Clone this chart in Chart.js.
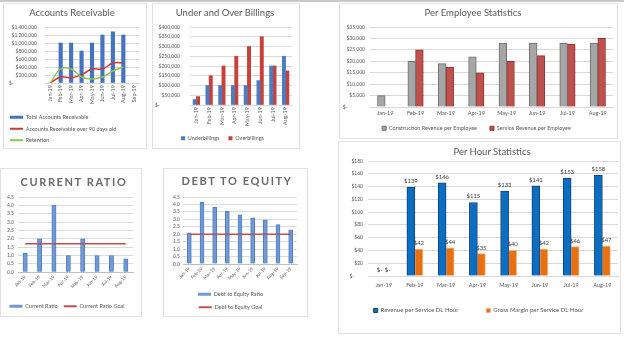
<!DOCTYPE html>
<html>
<head>
<meta charset="utf-8">
<script src="https://cdn.jsdelivr.net/npm/chart.js@4.4.0/dist/chart.umd.min.js"></script>
<style>
  html, body { margin: 0; padding: 0; background: #fff; }
  body { width: 624px; height: 337px; position: relative; overflow: hidden; font-family: Lato, 'Open Sans', sans-serif; }
  .topline { position: absolute; left: 0; top: 0; width: 624px; height: 2px; background: #c8c8c8; }
  .panel { position: absolute; box-sizing: border-box; border: 1px solid #e2e2e2; background: #fff; }
  .panel canvas { position: absolute; left: 0; top: 0; }
  .title { position: absolute; transform: translateX(-50%); white-space: nowrap; color: #595959; font-size: 9.5px; line-height: 12px; z-index: 2; }
  .title.caps { font-weight: 700; font-size: 11px; line-height: 14px; letter-spacing: 1.6px; color: #6a6a6a; }
</style>
</head>
<body>
<div class="topline"></div>

<div class="panel" style="left:3px;top:3px;width:144px;height:146px">
  <div class="title" style="left:68px;top:3px">Accounts Receivable</div>
  <canvas id="arChart" width="142" height="149"></canvas>
</div>

<div class="panel" style="left:152px;top:3px;width:148px;height:146px">
  <div class="title" style="left:72px;top:3px">Under and Over Billings</div>
  <canvas id="billingChart" width="146" height="147"></canvas>
</div>

<div class="panel" style="left:339px;top:3px;width:279px;height:136px">
  <div class="title" style="left:133px;top:3px">Per Employee Statistics</div>
  <canvas id="employeeChart" width="277" height="141"></canvas>
</div>

<div class="panel" style="left:0px;top:168px;width:142px;height:149px">
  <div class="title caps" style="left:73px;top:6px">CURRENT RATIO</div>
  <canvas id="currentChart" width="140" height="150"></canvas>
</div>

<div class="panel" style="left:163px;top:168px;width:145px;height:149px">
  <div class="title caps" style="left:73px;top:5px">DEBT TO EQUITY</div>
  <canvas id="debtChart" width="143" height="151"></canvas>
</div>

<div class="panel" style="left:338px;top:141px;width:283px;height:193px">
  <div class="title" style="left:153px;top:4px">Per Hour Statistics</div>
  <canvas id="hourChart" width="281" height="191"></canvas>
</div>

<script>
// months shown on the category axes
const months8 = ['Jan-19', 'Feb-19', 'Mar-19', 'Apr-19', 'May-19', 'Jun-19', 'Jul-19', 'Aug-19'];
const months9 = ['Jan-19', 'Feb-19', 'Mar-19', 'Apr-19', 'May-19', 'Jun-19', 'Jul-19', 'Aug-19', 'Sep-19'];

// accounts receivable
const arTotal = [0, 1000000, 1000000, 800000, 1000000, 1200000, 1280000, 1200000, null];
const arOver90 = [0, 150000, 130000, 210000, 350000, 350000, 500000, 500000, null];
const arRetention = [0, 350000, 350000, 150000, 100000, 150000, 300000, 400000, null];

// billings
const underBillings = [28000, 100000, 100000, 100000, 100000, 125000, 200000, 250000];
const overBillings = [43000, 150000, 200000, 250000, 300000, 350000, 200000, 175000];

// per employee
const constructionPerEmp = [5000, 20000, 19000, 22000, 28000, 28000, 28000, 28000];
const servicePerEmp = [0, 25000, 17500, 15000, 20000, 22500, 27500, 30000];

// ratios
const currentRatio = [1.15, 2.0, 4.0, 1.0, 2.0, 1.0, 1.0, 0.8];
const currentRatioGoal = [1.7, 1.7, 1.7, 1.7, 1.7, 1.7, 1.7, 1.7];
const debtToEquity = [2.1, 4.15, 3.8, 3.55, 3.3, 3.1, 2.95, 2.65, 2.3];
const debtToEquityGoal = [2.0, 2.0, 2.0, 2.0, 2.0, 2.0, 2.0, 2.0, 2.0];

// per hour
const revenuePerHour = [0, 139, 146, 115, 133, 141, 153, 158];
const marginPerHour = [0, 42, 44, 35, 40, 42, 46, 47];

Chart.defaults.font.family = "Lato, 'Open Sans', sans-serif";
Chart.defaults.color = '#595959';
Chart.defaults.animation = false;
Chart.defaults.responsive = false;
Chart.defaults.plugins.tooltip.enabled = false;

const GRID = '#d9d9d9';

// accounting style: zero shows as "$-" pushed to the left of the label column
function money(padTo) {
  return v => v === 0 ? '$-' + '\u2007'.repeat(padTo) : '$' + v.toLocaleString('en-US');
}

// legend entries: rectangles for bars, short strokes for lines, kept in dataset order
function legendItems(chart) {
  return Chart.defaults.plugins.legend.labels.generateLabels(chart)
    .sort((a, b) => a.datasetIndex - b.datasetIndex)
    .map(item => {
      const ds = chart.data.datasets[item.datasetIndex];
      const isLine = ds.type === 'line';
      item.pointStyle = isLine ? 'line' : 'rect';
      item.fillStyle = ds.backgroundColor;
      item.strokeStyle = ds.borderColor;
      item.lineWidth = isLine ? 2 : (ds.legendBorder || 0);
      return item;
    });
}

// value axis with a fixed width so the plot starts where it should
function yAxis(max, step, fmt, pad, width) {
  return {
    min: 0, max: max,
    ticks: { stepSize: step, callback: fmt, autoSkip: false, font: { size: 5 }, padding: pad, color: '#595959' },
    grid: { color: GRID, drawTicks: false },
    border: { display: false },
    afterFit: s => { s.width = width; }
  };
}

// category axis with a fixed height (labels are clipped to it, so it must hold them)
function xAxis(rotation, height, pad, size, baseColor) {
  return {
    ticks: { autoSkip: false, minRotation: rotation, maxRotation: rotation, font: { size: size }, padding: pad, color: '#595959' },
    grid: { display: false, drawTicks: false },
    border: { display: true, color: baseColor || GRID },
    afterFit: s => { s.height = height; }
  };
}

// moves the legend up or down after layout without touching the plot area
const legendShift = {
  id: 'legendShift',
  afterLayout(chart, args, opts) {
    const dy = opts.dy || 0;
    if (chart.legend && dy) {
      chart.legend.top += dy;
      chart.legend.bottom += dy;
    }
  }
};

// "$139" style labels above each bar
const barValueLabels = {
  id: 'barValueLabels',
  afterDatasetsDraw(chart) {
    const ctx = chart.ctx;
    ctx.save();
    ctx.font = "6px Lato, 'Open Sans', sans-serif";
    ctx.fillStyle = '#404040';
    ctx.textAlign = 'center';
    ctx.textBaseline = 'bottom';
    chart.data.datasets.forEach((ds, i) => {
      chart.getDatasetMeta(i).data.forEach((bar, j) => {
        const v = ds.data[j];
        ctx.fillText(v ? '$' + v : '$-', bar.x, bar.y - 3);
      });
    });
    ctx.restore();
  }
};

new Chart(document.getElementById('arChart'), {
  type: 'bar',
  data: {
    labels: months9,
    datasets: [
      { label: 'Total Accounts Receivable', data: arTotal, backgroundColor: '#4472c4', barThickness: 3.5, order: 2 },
      { type: 'line', label: 'Accounts Receivable over 90 days old', data: arOver90, borderColor: '#d0372f', backgroundColor: '#d0372f',
        borderWidth: 1.5, pointRadius: 0, tension: 0.35, order: 1 },
      { type: 'line', label: 'Retention', data: arRetention, borderColor: '#8fc24f', backgroundColor: '#8fc24f',
        borderWidth: 1.5, pointRadius: 0, tension: 0.35, order: 0 }
    ]
  },
  options: {
    layout: { padding: { top: 23, left: 0, right: 7, bottom: 0 } },
    scales: { x: xAxis(90, 25.5, 2, 5.5), y: yAxis(1400000, 200000, money(8), 8, 41) },
    plugins: {
      legend: {
        position: 'bottom', align: 'start',
        labels: { usePointStyle: true, pointStyleWidth: 13, boxHeight: 3, padding: 6, font: { size: 5.5 }, generateLabels: legendItems }
      }
    }
  }
});

new Chart(document.getElementById('billingChart'), {
  type: 'bar',
  data: {
    labels: months8,
    datasets: [
      { label: 'Underbillings', data: underBillings, backgroundColor: '#4a7cc4', barThickness: 3.3 },
      { label: 'Overbillings', data: overBillings, backgroundColor: '#c9403b', barThickness: 3.3 }
    ]
  },
  options: {
    layout: { padding: { top: 23, left: 0, right: 7, bottom: 0 } },
    scales: { x: xAxis(90, 21.5, 2, 5.5), y: yAxis(400000, 50000, money(7), 10, 37) },
    plugins: {
      legend: {
        position: 'bottom',
        labels: { boxWidth: 4, boxHeight: 4, padding: 9, font: { size: 5.5 } }
      }
    }
  }
});

new Chart(document.getElementById('employeeChart'), {
  type: 'bar',
  data: {
    labels: months8,
    datasets: [
      { label: 'Construction Revenue per Employee', data: constructionPerEmp, backgroundColor: '#a6a6a6',
        borderColor: '#6e6e6e', borderWidth: 1, barThickness: 7.7, legendBorder: 1 },
      { label: 'Service Revenue per Employee', data: servicePerEmp, backgroundColor: '#c0504d',
        borderColor: '#8e3532', borderWidth: 1, barThickness: 7.7, legendBorder: 1 }
    ]
  },
  options: {
    layout: { padding: { top: 23, left: 0, right: 4, bottom: 0 } },
    scales: { x: xAxis(0, 9.5, 2.8, 5.5), y: yAxis(35000, 5000, money(6), 5, 30) },
    plugins: {
      legend: {
        position: 'bottom',
        labels: { boxWidth: 4, boxHeight: 4, padding: 13, font: { size: 5.5 }, generateLabels: legendItems }
      },
      legendShift: { dy: -4 }
    }
  },
  plugins: [legendShift]
});

new Chart(document.getElementById('currentChart'), {
  type: 'bar',
  data: {
    labels: months8,
    datasets: [
      { label: 'Current Ratio', data: currentRatio, backgroundColor: '#6f9ad6', borderColor: '#4f7fc2', borderWidth: 1,
        barThickness: 4.3, order: 1 },
      { type: 'line', label: 'Current Ratio Goal', data: currentRatioGoal, borderColor: '#c0504d', backgroundColor: '#c0504d',
        borderWidth: 1.5, pointRadius: 0, order: 0 }
    ]
  },
  options: {
    layout: { padding: { top: 28, left: 0, right: 8, bottom: 0 } },
    scales: { x: xAxis(45, 25.25, 2, 4.6, '#bfbfbf'), y: yAxis(4.5, 0.5, v => v.toFixed(1), 4, 17) },
    plugins: {
      legend: {
        position: 'bottom',
        labels: { usePointStyle: true, pointStyleWidth: 13, boxHeight: 3, padding: 6, font: { size: 5.5 }, generateLabels: legendItems }
      }
    }
  }
});

new Chart(document.getElementById('debtChart'), {
  type: 'bar',
  data: {
    labels: months9,
    datasets: [
      { label: 'Debt to Equity Ratio', data: debtToEquity, backgroundColor: '#6f9ad6', borderColor: '#4f7fc2', borderWidth: 1,
        barThickness: 4, order: 1 },
      { type: 'line', label: 'Debt to Equity Goal', data: debtToEquityGoal, borderColor: '#c0504d', backgroundColor: '#c0504d',
        borderWidth: 1.5, pointRadius: 0, order: 0 }
    ]
  },
  options: {
    layout: { padding: { top: 28, left: 0, right: 10, bottom: 0 } },
    scales: { x: xAxis(45, 20, 2, 4.6, '#bfbfbf'), y: yAxis(4.5, 0.5, v => v.toFixed(1), 3, 19) },
    plugins: {
      legend: {
        position: 'bottom',
        labels: { usePointStyle: true, pointStyleWidth: 13, boxHeight: 3, padding: 7.5, font: { size: 5.5 }, generateLabels: legendItems }
      }
    }
  }
});

new Chart(document.getElementById('hourChart'), {
  type: 'bar',
  data: {
    labels: months8,
    datasets: [
      { label: 'Revenue per Service DL Hour', data: revenuePerHour, backgroundColor: '#0a6fc2',
        borderColor: '#1d3f6b', borderWidth: 1, barThickness: 8 },
      { label: 'Gross Margin per Service DL Hour', data: marginPerHour, backgroundColor: '#e8700e',
        borderColor: '#f3b184', borderWidth: 1, barThickness: 8 }
    ]
  },
  options: {
    layout: { padding: { top: 19, left: 0, right: 2, bottom: 0 } },
    scales: { x: xAxis(0, 13, 5.5, 5.5), y: yAxis(180, 20, money(3), 5, 29) },
    plugins: {
      legend: {
        position: 'bottom',
        labels: { boxWidth: 4, boxHeight: 4, padding: 28, font: { size: 6 } }
      },
      legendShift: { dy: -9.5 }
    }
  },
  plugins: [barValueLabels, legendShift]
});
</script>
</body>
</html>
